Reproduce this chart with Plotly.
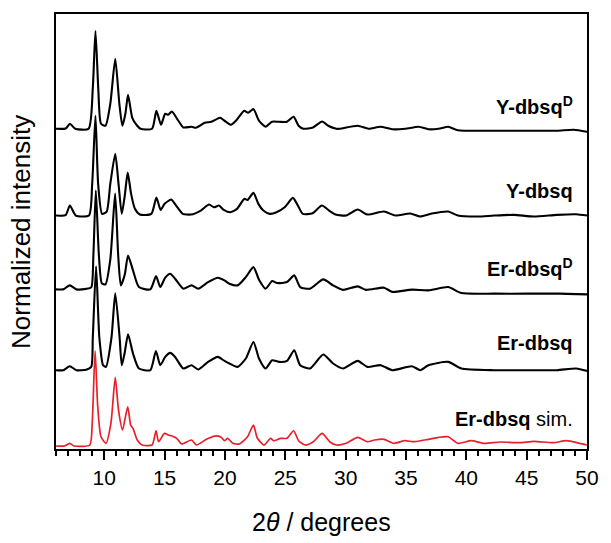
import plotly.graph_objects as go

# ---- data (2theta, normalized intensity*100) ----
yd_tt = [6.0, 6.8, 7.15, 7.6, 8.7, 9.05, 9.27, 9.5, 9.73, 10.1, 10.5, 10.91, 11.25, 11.5, 11.75, 11.97, 12.32, 12.73, 13.0, 13.96, 14.32, 14.7, 15.05, 15.3, 15.6, 16.14, 16.55, 17.23, 17.6, 18.32, 18.87, 19.6, 19.96, 20.5, 20.91, 21.6, 21.92, 22.36, 22.82, 23.37, 23.9, 24.46, 25.14, 25.69, 26.1, 26.5, 27.3, 28.05, 28.55, 29.23, 29.5, 31.0, 31.9, 32.9, 33.86, 34.95, 36.04, 36.86, 37.7, 38.5, 39.3, 42.0, 44.8, 47.5, 48.9, 50.0]
yd_int = [0, 0.3, 5, 0, 0, 41, 98, 41, 5, 3, 25, 70, 25, 3, 15, 34, 11, 3, 0, 0, 18, 4, 15, 14, 17.3, 8, 1.3, 2, 1, 6, 7, 11, 8, 4, 8, 18, 16, 19.7, 8, 2, 7, 7, 7, 12, 3, 0, 1.3, 7.3, 3, 0, 0, 3, 0, 2, -0.5, 0, 2, -0.5, 0, 2, -1.5, -2, -2, -2, -1, -3]

y_tt = [6.0, 6.8, 7.15, 7.64, 8.73, 9.0, 9.27, 9.49, 9.82, 10.2, 10.5, 10.91, 11.18, 11.45, 11.7, 11.94, 12.22, 12.54, 12.95, 13.9, 14.32, 14.67, 15.0, 15.54, 15.95, 16.5, 17.18, 18.0, 18.68, 19.09, 19.5, 19.9, 20.45, 21.0, 21.6, 21.87, 22.36, 22.77, 23.18, 23.72, 24.27, 24.95, 25.63, 26.04, 26.45, 27.27, 28.03, 28.63, 29.17, 30.05, 31.0, 31.8, 33.18, 34.13, 35.36, 36.18, 37.14, 38.5, 39.3, 40.95, 42.3, 43.95, 45.6, 47.5, 49.1, 50.0]
y_int = [0, 0.5, 10, 0, 0, 32, 100, 32, 1.7, 4, 32, 62, 32, 1.7, 20, 43, 22, 6.7, 1, 1.7, 18, 5.7, 11.7, 16, 10, 1.7, 1, 5, 11, 8.3, 10, 5.7, 3.3, 6.7, 16.7, 15.7, 22.7, 11.7, 5, 1.7, 3.3, 8.3, 17.7, 10, 1.7, 2.3, 10, 5, 1, 0, 6, 1, 4, 0, 2, -1, 2, 4, 0, -1, 0, 0.7, -1, 0.7, 1.3, 0]

erd_tt = [6.0, 6.6, 7.14, 7.69, 8.5, 8.92, 9.1, 9.3, 9.55, 9.8, 10.1, 10.5, 10.9, 11.15, 11.37, 11.7, 11.97, 12.38, 12.87, 13.82, 14.29, 14.64, 15.05, 15.46, 15.87, 16.55, 17.23, 17.78, 18.6, 19.41, 19.96, 20.37, 21.05, 21.73, 22.36, 22.82, 23.37, 23.91, 24.32, 25.14, 25.74, 26.23, 27.05, 28.14, 28.96, 29.78, 31.0, 31.68, 33.18, 33.86, 35.5, 36.86, 38.5, 39.59, 42.32, 45.05, 47.77, 50.0]
erd_int = [0, 0, 4, 0, 0.5, 2, 35, 99, 35, 6, 5, 30, 96, 35, 4, 15, 34, 19, 2.3, 0, 13.3, 2.3, 11.7, 15.7, 10.7, 0.7, 4, 0.7, 7.3, 11.7, 9, 5.7, 4, 12.3, 22.3, 9.7, 0.7, 8.3, 6.3, 7.3, 14, 2.3, 0.7, 10, 4, -0.5, 3, -0.5, 1.7, -2.5, -0.3, -1, 2.3, -3.7, -4.3, -4.3, -4.3, -5]

er_tt = [6.0, 6.6, 7.14, 7.69, 8.5, 8.92, 9.05, 9.32, 9.59, 9.9, 10.14, 10.6, 10.91, 11.27, 11.45, 11.7, 11.97, 12.38, 12.87, 13.82, 14.28, 14.64, 15.05, 15.46, 15.87, 16.55, 17.23, 17.78, 18.6, 19.41, 19.96, 20.37, 21.05, 21.73, 22.36, 22.82, 23.37, 23.91, 24.46, 25.14, 25.74, 26.23, 27.05, 28.14, 28.96, 29.78, 31.0, 31.8, 32.9, 33.86, 35.5, 36.18, 36.86, 38.5, 39.59, 42.32, 45.05, 47.5, 49.1, 50.0]
er_int = [0, 0, 4, 0, 0.5, 3.3, 33, 104, 33, 5, 3.3, 33, 77, 33, 5, 18, 36, 16.7, 1.7, 0, 19.3, 5, 13.3, 17.3, 13.3, 1.7, 5, 0.7, 8.3, 13.3, 9.3, 6.7, 3.3, 11.7, 28.3, 11.7, 1.7, 10, 8.3, 9.3, 20, 5, 1.7, 15.7, 6.7, 1.7, 9.3, 3.3, 5, 0, 4, 0, 5, 8.3, 1.7, 0, 0, 0, 1.7, -0.7]

sim_tt = [6.0, 6.7, 7.14, 7.5, 8.8, 9.0, 9.24, 9.46, 9.73, 10.14, 10.55, 10.91, 11.18, 11.51, 11.94, 12.19, 12.38, 12.73, 13.14, 13.96, 14.29, 14.5, 14.99, 15.32, 15.6, 16.0, 16.41, 17.23, 17.64, 18.46, 19.14, 19.69, 19.96, 20.23, 20.64, 21.19, 21.87, 22.36, 22.68, 23.23, 23.78, 24.05, 24.6, 25.14, 25.69, 26.1, 26.64, 27.32, 28.05, 28.68, 29.23, 30.05, 31.0, 31.8, 32.4, 33.18, 34.0, 34.9, 35.7, 36.86, 37.7, 38.5, 39.3, 40.4, 41.5, 42.8, 44.4, 45.6, 47.2, 48.3, 49.4, 50.0]
sim_int = [0, 0, 2.7, 0, 1, 22.7, 95.3, 39.3, 9.3, 2.7, 22.7, 68.7, 36, 16, 39.3, 21, 17.7, 6, 1, 1, 15.3, 4.3, 12.7, 11, 10, 7.7, 2, 6, 1, 6.7, 10, 8.7, 5.3, 7.7, 2.7, 2, 9.3, 21, 8, 1, 7.7, 5.3, 7.7, 7.7, 15.3, 5.3, 1, 4.3, 12.7, 4.3, 1, 2.7, 8.7, 4.3, 6, 6.7, 2.7, 5.3, 4.3, 6.7, 8.7, 9.3, 2.7, 5.3, 2.7, 4, 3.3, 4.7, 3.3, 5.3, 2.7, 1]

series_names = ["Y-dbsq<sup>D</sup>", "Y-dbsq", "Er-dbsq<sup>D</sup>", "Er-dbsq", "Er-dbsq sim."]
label_texts = ["<b>Y-dbsq<sup>D</sup></b>", "<b>Y-dbsq</b>", "<b>Er-dbsq<sup>D</sup></b>", "<b>Er-dbsq</b>", "<b>Er-dbsq</b> sim."]
offsets = [3.21, 2.34, 1.60, 0.79, 0.03]
label_y = [3.44, 2.59, 1.82, 1.06, 0.30]
colors = ["black", "black", "black", "black", "#e8202a"]
xs = [yd_tt, y_tt, erd_tt, er_tt, sim_tt]
ys = [yd_int, y_int, erd_int, er_int, sim_int]
x_tick_vals = [10, 15, 20, 25, 30, 35, 40, 45, 50]

fig = go.Figure()
for name, tt, inten, off, col in zip(series_names, xs, ys, offsets, colors):
    fig.add_trace(go.Scatter(
        x=tt, y=[off + v / 100.0 for v in inten], mode="lines", name=name,
        line=dict(color=col, width=2.1 if col == "black" else 1.7, shape="spline", smoothing=0.6),
        showlegend=False, hoverinfo="skip"))

FONT = "Arial, Liberation Sans, sans-serif"
for txt, ly in zip(label_texts, label_y):
    fig.add_annotation(x=49.0, y=ly, xref="x", yref="y", text=txt, showarrow=False,
                       xanchor="right", yanchor="middle",
                       font=dict(family=FONT, size=20, color="black"))

# axis titles placed as annotations for exact positioning
fig.add_annotation(x=-0.067, y=0.5, xref="paper", yref="paper", text="Normalized intensity",
                   textangle=-90, showarrow=False, xanchor="center", yanchor="middle",
                   font=dict(family=FONT, size=26, color="black"))
fig.add_annotation(x=0.5, y=-0.168, xref="paper", yref="paper", text="2<i>θ</i> / degrees",
                   showarrow=False, xanchor="center", yanchor="middle",
                   font=dict(family=FONT, size=25, color="black"))

fig.update_layout(
    width=611, height=543,
    margin=dict(l=56, r=17, t=13, b=94),
    paper_bgcolor="white", plot_bgcolor="white",
    font=dict(family=FONT, color="black"),
    xaxis=dict(range=[6, 50], tickvals=x_tick_vals,
               ticks="outside", ticklen=9, tickwidth=2, tickcolor="black",
               minor=dict(ticks="outside", dtick=1, tick0=0, ticklen=5, tickwidth=2, tickcolor="black", showgrid=False),
               showline=True, linewidth=2, linecolor="black", mirror=True,
               showgrid=False, zeroline=False,
               tickfont=dict(family=FONT, size=21, color="black")),
    yaxis=dict(range=[0, 4.36], showticklabels=False, ticks="",
               showline=True, linewidth=2, linecolor="black", mirror=True,
               showgrid=False, zeroline=False),
)

fig.write_html("out.html")
